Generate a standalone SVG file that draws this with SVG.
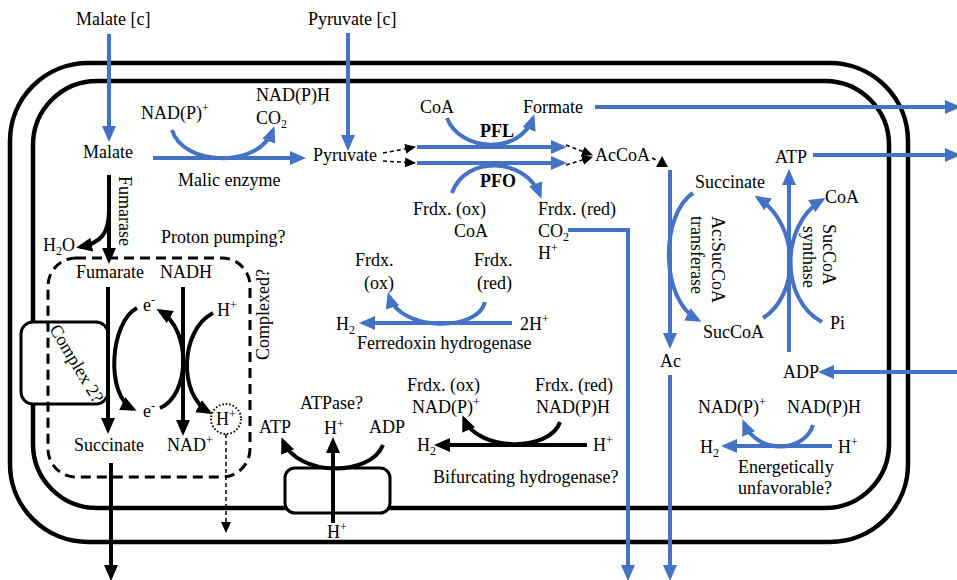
<svg xmlns="http://www.w3.org/2000/svg" width="957" height="580" viewBox="0 0 957 580">
<defs>
<style>
text{font-family:"Liberation Serif","Times New Roman",serif;font-size:18px;fill:#000}
.b{font-weight:bold}
.s{font-size:12px}
.blue{fill:none;stroke:#4472C4;stroke-width:4}
.blk{fill:none;stroke:#000;stroke-width:4}
.dsh{fill:none;stroke:#000;stroke-width:1.5;stroke-dasharray:4 3}
.mem{fill:none;stroke:#000;stroke-width:4.5}
</style>
<marker id="ab" markerUnits="userSpaceOnUse" markerWidth="16" markerHeight="14" refX="12" refY="7" orient="auto"><path d="M0,0 L16,7 L0,14 z" fill="#4472C4"/></marker>
<marker id="ak" markerUnits="userSpaceOnUse" markerWidth="16" markerHeight="14" refX="12" refY="7" orient="auto"><path d="M0,0 L16,7 L0,14 z" fill="#000"/></marker>
<marker id="as" markerUnits="userSpaceOnUse" markerWidth="11" markerHeight="10" refX="10" refY="5" orient="auto"><path d="M0,0 L11,5 L0,10 z" fill="#000"/></marker>
</defs>
<rect width="957" height="580" fill="#fff"/>
<g id="membranes">
<rect x="10" y="63" width="898" height="479" rx="78" class="mem"/>
<rect x="33" y="81" width="856" height="427" rx="64" class="mem"/>
</g>
<g id="complex2">
<rect x="21" y="322" width="87" height="82" rx="12" fill="#fff" stroke="#000" stroke-width="3"/>
<text transform="translate(49,329) rotate(59)">Complex 2?</text>
</g>
<g id="atpase-box">
<rect x="285" y="468" width="105" height="45" rx="10" fill="#fff" stroke="#000" stroke-width="3"/>
</g>
<g id="proton-box">
<rect x="48" y="258" width="202" height="219" rx="28" fill="none" stroke="#000" stroke-width="3" stroke-dasharray="10 6"/>
<circle cx="226" cy="419" r="15" fill="none" stroke="#000" stroke-width="2" stroke-dasharray="1.5 2"/>
</g>
<g id="connectors">
<path class="blue" d="M109,34 L109,138" marker-end="url(#ab)"/>
<path class="blue" d="M348,33 L348,147" marker-end="url(#ab)"/>
<path class="blue" d="M153,158 L302,158" marker-end="url(#ab)"/>
<path class="blue" d="M172,130 C182,165 258,170 273,130" marker-end="url(#ab)"/>
<path class="dsh" d="M383,153 L415,147" marker-end="url(#as)"/>
<path class="dsh" d="M383,161 L415,163" marker-end="url(#as)"/>
<path class="blue" d="M417,147 L563,147" marker-end="url(#ab)"/>
<path class="blue" d="M417,163 L563,163" marker-end="url(#ab)"/>
<path class="blue" d="M447,118 C460,152 520,155 533,118" marker-end="url(#ab)"/>
<path class="blue" d="M452,193 C465,155 525,157 540,195" marker-end="url(#ab)"/>
<path class="dsh" d="M566,145 L592,155" marker-end="url(#as)"/>
<path class="dsh" d="M566,165 L592,157" marker-end="url(#as)"/>
<path class="blue" d="M595,107 L957,107" marker-end="url(#ab)"/>
<path class="dsh" d="M652,158 L658,161"/>
<path d="M662,156 L668,167 L656,167 z" fill="#000"/>
<path class="blue" d="M670,170 L670,345" marker-end="url(#ab)"/>
<path class="blue" d="M670,375 L670,577" marker-end="url(#ab)"/>
<path class="blue" d="M568,230 L628,230 L628,577" marker-end="url(#ab)"/>
<path class="blue" d="M693,193 C660,215 660,300 698,320" marker-end="url(#ab)"/>
<path class="blue" d="M789,352 L789,173" marker-end="url(#ab)"/>
<path class="blue" d="M763,318 C800,295 800,225 758,198" marker-end="url(#ab)"/>
<path class="blue" d="M822,322 C780,300 780,225 822,200" marker-end="url(#ab)"/>
<path class="blue" d="M813,155 L957,155" marker-end="url(#ab)"/>
<path class="blue" d="M957,372 L822,372" marker-end="url(#ab)"/>
<path class="blue" d="M512,323 L363,323" marker-end="url(#ab)"/>
<path class="blue" d="M485,302 C478,332 400,332 389,296" marker-end="url(#ab)"/>
<path class="blue" d="M832,446 L725,446" marker-end="url(#ab)"/>
<path class="blue" d="M813,425 C805,452 758,456 744,423" marker-end="url(#ab)"/>
<path class="blk" d="M587,445 L438,445" marker-end="url(#ak)"/>
<path class="blk" d="M560,422 C550,452 478,452 464,419" marker-end="url(#ak)"/>
<path class="blk" d="M383,445 C370,477 298,477 283,441" marker-end="url(#ak)"/>
<path class="blk" d="M333,523 L333,441" marker-end="url(#ak)"/>
<path class="blk" d="M109,175 L109,260" marker-end="url(#ak)"/>
<path class="blk" d="M109,210 C109,235 100,243 80,247" marker-end="url(#ak)"/>
<path class="blk" d="M108,287 L108,430" marker-end="url(#ak)"/>
<path class="blk" d="M183,287 L183,432" marker-end="url(#ak)"/>
<path class="blk" d="M137,308 C110,322 105,395 133,409" marker-end="url(#ak)"/>
<path class="blk" d="M160,408 C190,395 192,330 160,311" marker-end="url(#ak)"/>
<path class="blk" d="M213,313 C180,330 178,395 209,412" marker-end="url(#ak)"/>
<path class="dsh" d="M226,434 L226,532" marker-end="url(#as)"/>
<path class="blk" d="M111,463 L111,577" marker-end="url(#ak)"/>
</g>
<g id="n-malate-c"><text x="76" y="25">Malate [c]</text></g>
<g id="n-pyruvate-c"><text x="308" y="25">Pyruvate [c]</text></g>
<g id="n-malate"><text x="83" y="158">Malate</text></g>
<g id="n-malic"><text x="141" y="119">NAD(P)<tspan class="s" dy="-7">+</tspan></text>
<text x="256" y="101">NAD(P)H</text><text x="256" y="124">CO<tspan class="s" dy="4">2</tspan></text>
<text x="178" y="186">Malic enzyme</text></g>
<g id="n-pyruvate"><text x="313" y="161">Pyruvate</text></g>
<g id="n-pfl"><text x="420" y="113">CoA</text><text x="523" y="113">Formate</text><text class="b" x="480" y="137">PFL</text></g>
<g id="n-pfo"><text class="b" x="480" y="187">PFO</text>
<text x="413" y="215">Frdx. (ox)</text><text x="454" y="237">CoA</text>
<text x="538" y="215">Frdx. (red)</text><text x="538" y="237">CO<tspan class="s" dy="4">2</tspan></text><text x="538" y="259">H<tspan class="s" dy="-7">+</tspan></text></g>
<g id="n-accoa"><text x="595" y="161">AcCoA</text></g>
<g id="n-fdh"><text x="355" y="266">Frdx.</text><text x="364" y="289">(ox)</text>
<text x="474" y="266">Frdx.</text><text x="477" y="289">(red)</text>
<text x="336" y="330">H<tspan class="s" dy="4">2</tspan></text><text x="520" y="330">2H<tspan class="s" dy="-7">+</tspan></text>
<text x="357" y="349">Ferredoxin hydrogenase</text></g>
<g id="n-transferase"><text x="695" y="188">Succinate</text><text x="703" y="338">SucCoA</text>
<text transform="translate(712,216) rotate(90)">Ac:SucCoA</text>
<text transform="translate(691,216) rotate(90)">transferase</text></g>
<g id="n-ac"><text x="660" y="367">Ac</text></g>
<g id="n-synthase"><text x="775" y="163">ATP</text><text x="825" y="203">CoA</text><text x="830" y="329">Pi</text><text x="783" y="378">ADP</text>
<text transform="translate(823,224) rotate(90)">SucCoA</text>
<text transform="translate(803,226) rotate(90)">synthase</text></g>
<g id="n-energ"><text x="698" y="413">NAD(P)<tspan class="s" dy="-7">+</tspan></text><text x="787" y="413">NAD(P)H</text>
<text x="700" y="453">H<tspan class="s" dy="4">2</tspan></text><text x="838" y="453">H<tspan class="s" dy="-7">+</tspan></text>
<text x="738" y="473">Energetically</text><text x="738" y="494">unfavorable?</text></g>
<g id="n-bifurc"><text x="407" y="391">Frdx. (ox)</text><text x="412" y="413">NAD(P)<tspan class="s" dy="-7">+</tspan></text>
<text x="535" y="391">Frdx. (red)</text><text x="536" y="413">NAD(P)H</text>
<text x="417" y="451">H<tspan class="s" dy="4">2</tspan></text><text x="593" y="451">H<tspan class="s" dy="-7">+</tspan></text>
<text x="433" y="483">Bifurcating hydrogenase?</text></g>
<g id="n-atpase"><text x="300" y="409">ATPase?</text><text x="259" y="433">ATP</text><text x="324" y="434">H<tspan class="s" dy="-6">+</tspan></text><text x="369" y="433">ADP</text>
<text x="327" y="538">H<tspan class="s" dy="-7">+</tspan></text></g>
<g id="n-fumarase"><text transform="translate(119,176) rotate(90)">Fumarase</text>
<text x="43" y="251">H<tspan class="s" dy="4">2</tspan><tspan dy="-4">O</tspan></text></g>
<g id="n-proton"><text x="161" y="243">Proton pumping?</text>
<text transform="translate(269,360) rotate(-90)">Complexed?</text>
<text x="76" y="278">Fumarate</text><text x="160" y="278">NADH</text>
<text x="143" y="311">e<tspan class="s" dy="-7">-</tspan></text><text x="143" y="417">e<tspan class="s" dy="-7">-</tspan></text>
<text x="217" y="316">H<tspan class="s" dy="-7">+</tspan></text>
<text x="216" y="425">H<tspan class="s" dy="-7">+</tspan></text>
<text x="74" y="451">Succinate</text><text x="167" y="451">NAD<tspan class="s" dy="-7">+</tspan></text></g>
</svg>
